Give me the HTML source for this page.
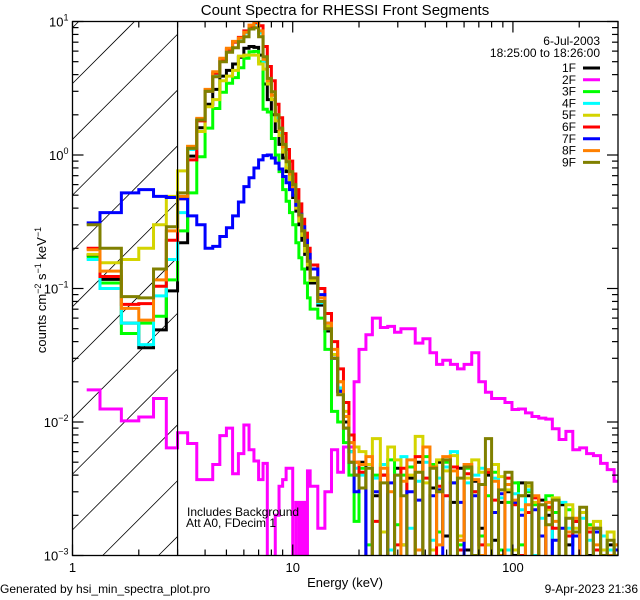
<!DOCTYPE html>
<html><head><meta charset="utf-8"><style>
html,body{margin:0;padding:0;background:#fff;width:640px;height:600px;overflow:hidden;}
svg{display:block;font-family:"Liberation Sans",sans-serif;}
</style></head><body>
<svg id="chart" width="640" height="600" viewBox="0 0 640 600" xmlns="http://www.w3.org/2000/svg">
<rect x="0" y="0" width="640" height="600" fill="#fff"/>
<text x="345" y="15" font-size="15" text-anchor="middle">Count Spectra for RHESSI Front Segments</text>
<g id="hatch"></g>
<g id="series"></g>
<g id="axes"></g>
<text x="345" y="587" font-size="13" text-anchor="middle">Energy (keV)</text>
<text transform="translate(46,290) rotate(-90)" font-size="13" text-anchor="middle">counts cm<tspan dy="-5" font-size="9">−2</tspan><tspan dy="5"> s</tspan><tspan dy="-5" font-size="9">−1</tspan><tspan dy="5"> keV</tspan><tspan dy="-5" font-size="9">−1</tspan></text>
<text x="187" y="516" font-size="12">Includes Background</text>
<text x="186" y="527" font-size="12">Att A0, FDecim 1</text>
<text x="0" y="593" font-size="12">Generated by hsi_min_spectra_plot.pro</text>
<text x="638" y="593" font-size="12" text-anchor="end">9-Apr-2023 21:36</text>
<g id="legend">
<text x="600" y="45" font-size="12" text-anchor="end">6-Jul-2003</text>
<text x="600" y="57" font-size="12" text-anchor="end">18:25:00 to 18:26:00</text>
</g>
</svg>
<script>
const energyEdges = [1.16,1.333,1.667,2,2.333,2.667,3,
3.333,3.667,4,4.333,4.667,5,5.333,5.667,6,6.333,6.667,7,7.333,7.667,8,8.333,8.667,9,9.333,9.667,10,10.333,10.667,11,11.333,11.667,12,
13,14,15,16,17,18,19,20,
21.5,23,25,27,29,31,33,36,39,42,45,48,52,56,60,65,70,75,80,86,92,99,106,114,122,131,141,151,162,174,187,201,216,232,250,268,288,300];

const seriesNames = ["1F","2F","3F","4F","5F","6F","7F","8F","9F"];

const s1F = [0.178,0.117,0.055,0.036,0.049,0.096,
0.22,0.98,1.6,2.4,3.1,3.9,4.3,4.8,5.4,6.3,6.5,6.4,5.6,3.4,2.6,2.0,1.5,1.2,0.95,0.75,0.6,0.48,0.38,0.3,0.23,0.18,0.14,
0.11,0.075,0.048,0.03,0.017,0.01,0.006,0.004,
0.005,0.0006,0.0028,0.004,0.0008,0.0045,0.0012,0.0038,0.005,0.0009,0.0032,0.005,0.0014,0.0025,0.0045,0.0011,0.0036,0.0016,0.004,0.0013,0.0025,0.003,0.001,0.0035,0.0028,0.0009,0.0026,0.002,0.0008,0.0024,0.0012,0.0018,0.0007,0.001,0.0016,0.0006,0.0012,0.0008];

const s2F = [0.0174,0.0125,0.0102,0.0109,0.015,0.0064,
0.0083,0.0069,0.0037,0.0037,0.0048,0.0079,0.009,0.0041,0.0058,0.0095,0.0062,0.0051,0.0037,0.0049,0.0007,0.0007,0.002,0.0033,0.0037,0.0045,0.0045,0.0007,0.0025,0.0007,0.0025,0.0007,0.0043,
0.0033,0.0016,0.003,0.0062,0.0042,0.0065,0.0065,0.02,
0.035,0.045,0.06,0.051,0.052,0.047,0.05,0.05,0.039,0.042,0.033,0.027,0.029,0.027,0.025,0.027,0.033,0.02,0.0167,0.015,0.015,0.014,0.0124,0.0125,0.0117,0.011,0.0107,0.0105,0.0089,0.0074,0.0085,0.0062,0.0064,0.0058,0.0056,0.0049,0.0044,0.0036];

const s3F = [0.17,0.11,0.046,0.055,0.062,0.116,
0.27,0.52,0.97,1.59,2.23,2.95,3.45,3.8,4.5,5.3,5.94,5.97,5.0,2.2,2.1,1.33,1.0,0.75,0.55,0.45,0.37,0.3,0.22,0.17,0.14,0.11,0.085,
0.07,0.06,0.035,0.012,0.01,0.007,0.004,0.0018,
0.0045,0.0012,0.004,0.0009,0.0052,0.0017,0.004,0.0046,0.0011,0.0055,0.0048,0.0015,0.005,0.0035,0.0012,0.0045,0.003,0.0014,0.0028,0.0042,0.0011,0.0025,0.0035,0.0012,0.003,0.0024,0.0009,0.0028,0.0021,0.0008,0.0022,0.0015,0.0007,0.0017,0.0011,0.0006,0.0009,0.0012];

const s4F = [0.165,0.1,0.055,0.038,0.088,0.165,
0.37,1.1,1.85,3.0,4.0,5.2,6.1,7.0,7.4,8.2,9.2,9.6,8.2,5.0,3.5,2.6,1.9,1.45,1.1,0.85,0.7,0.55,0.42,0.34,0.26,0.2,0.155,
0.115,0.078,0.05,0.03,0.018,0.011,0.006,0.0045,
0.004,0.0008,0.0038,0.0048,0.0011,0.004,0.0055,0.0016,0.0036,0.005,0.0013,0.0038,0.0046,0.006,0.0014,0.0035,0.004,0.0045,0.0012,0.0038,0.0027,0.0011,0.0029,0.0022,0.0031,0.001,0.0019,0.0023,0.0009,0.0025,0.0016,0.0007,0.0019,0.0013,0.0006,0.0014,0.0011,0.0008];

const s5F = [0.18,0.156,0.165,0.2,0.3,0.49,
0.76,1.16,1.5,2.3,2.6,3.6,3.9,4.3,5.5,5.6,5.6,5.6,4.8,4.4,3.4,2.6,1.8,1.4,1.05,0.8,0.65,0.52,0.4,0.32,0.25,0.19,0.15,
0.115,0.08,0.052,0.032,0.02,0.012,0.008,0.0065,
0.006,0.0048,0.0075,0.0015,0.0065,0.0052,0.0012,0.004,0.0078,0.0035,0.0011,0.0052,0.0043,0.0056,0.0014,0.0038,0.0052,0.0042,0.0012,0.0048,0.0039,0.0031,0.0011,0.0028,0.0033,0.0025,0.0009,0.0022,0.0027,0.0008,0.0024,0.0016,0.0021,0.0008,0.0018,0.0011,0.0015,0.001];

const s6F = [0.2,0.123,0.076,0.077,0.104,0.23,
0.47,0.92,1.8,3.0,4.1,5.2,6.2,7.0,7.6,8.5,9.2,9.8,9.3,6.5,4.6,3.6,2.4,1.9,1.45,1.1,0.9,0.72,0.55,0.43,0.33,0.26,0.2,
0.15,0.1,0.065,0.04,0.025,0.014,0.008,0.005,
0.0042,0.0007,0.0018,0.004,0.0006,0.0012,0.0045,0.0008,0.0055,0.0038,0.0009,0.0033,0.0028,0.0046,0.0011,0.0041,0.003,0.0012,0.0042,0.0026,0.0009,0.0038,0.0024,0.001,0.0021,0.0027,0.0008,0.0023,0.0016,0.0007,0.0014,0.0018,0.0006,0.0015,0.0011,0.0006,0.0009,0.0011];

const s7F = [0.31,0.37,0.52,0.55,0.49,0.48,
0.47,0.35,0.3,0.2,0.207,0.245,0.285,0.35,0.445,0.58,0.675,0.8,0.92,0.99,1.0,0.95,0.87,0.785,0.69,0.62,0.55,0.5,0.42,0.36,0.29,0.23,0.18,
0.14,0.09,0.055,0.03,0.017,0.009,0.005,0.003,
0.0032,0.0007,0.003,0.0006,0.0035,0.0008,0.0006,0.003,0.0026,0.0007,0.0028,0.0031,0.0009,0.0035,0.0025,0.0005,0.0028,0.0034,0.0008,0.0021,0.0029,0.0007,0.0025,0.002,0.0006,0.0022,0.0014,0.0006,0.0013,0.0016,0.0005,0.0014,0.0009,0.0005,0.0015,0.001,0.0005,0.0011];

const s8F = [0.195,0.135,0.071,0.058,0.116,0.27,
0.49,1.16,1.88,3.1,4.2,5.3,6.3,7.1,7.5,8.3,9.4,10.0,8.5,5.2,3.6,2.8,2.0,1.55,1.15,0.9,0.72,0.58,0.45,0.35,0.27,0.21,0.16,
0.12,0.085,0.055,0.035,0.02,0.011,0.007,0.005,
0.0048,0.0055,0.0009,0.0045,0.003,0.0008,0.0036,0.0052,0.0011,0.0065,0.0046,0.0012,0.0055,0.0043,0.0013,0.0048,0.0037,0.001,0.0044,0.0036,0.001,0.0034,0.0026,0.0009,0.0024,0.0028,0.0008,0.0025,0.0018,0.0007,0.0015,0.0019,0.0007,0.0016,0.0012,0.0006,0.001,0.0012];

const s9F = [0.3,0.2,0.087,0.085,0.14,0.29,
0.52,1.12,1.83,3.0,3.86,5.0,5.88,6.36,7.06,7.69,8.79,8.98,7.69,5.45,3.75,2.98,2.0,1.59,1.2,0.89,0.75,0.6,0.45,0.356,0.27,0.21,0.16,
0.12,0.08,0.05,0.03,0.016,0.009,0.005,0.004,
0.0032,0.0045,0.0008,0.0035,0.0006,0.004,0.0028,0.0007,0.0042,0.0009,0.0045,0.003,0.0052,0.0008,0.0038,0.0046,0.001,0.0034,0.0075,0.0009,0.0031,0.0042,0.0008,0.0028,0.0035,0.0007,0.0024,0.0017,0.0026,0.0006,0.0019,0.0015,0.0023,0.0006,0.0016,0.001,0.0013,0.0009];

const xTickValues = [1,10,100];
const xTickLabels = ["1","10","100"];
const yTickExponents = [1,0,-1,-2,-3];

const seriesList = [s1F,s2F,s3F,s4F,s5F,s6F,s7F,s8F,s9F];
const colors = ["#000000","#ff00ff","#00ff00","#00ffff","#d4d400","#ff0000","#0000ff","#ff8000","#808000"];

const NS = "http://www.w3.org/2000/svg";
const L = 72.5, R = 618, T = 21.5, B = 555.5;
const XMIN = 1, XMAX = 300, YMIN = 1e-3, YMAX = 10;
function xs(e){ return L + (Math.log10(e) - Math.log10(XMIN)) / (Math.log10(XMAX) - Math.log10(XMIN)) * (R - L); }
function ys(v){ if (!(v > 0)) v = 1e-6; return B - (Math.log10(v) - Math.log10(YMIN)) / (Math.log10(YMAX) - Math.log10(YMIN)) * (B - T); }
function mk(tag, attrs, parent){ const el = document.createElementNS(NS, tag); for (const k in attrs) el.setAttribute(k, attrs[k]); parent.appendChild(el); return el; }

const svg = document.getElementById('chart');
const defs = mk('defs', {}, svg);
const cp = mk('clipPath', {id:'plotclip'}, defs);
mk('rect', {x:L, y:T, width:R-L, height:B-T}, cp);

// hatch lines clipped analytically to the hatch box
const hatch = document.getElementById('hatch');
const HX1 = xs(3);
for (let k = -3; k < 14; k++) {
  const c = 27.7 + k * 55.8 + L; // line: y = c - x
  let xa = Math.max(L, c - B), xb = Math.min(HX1, c - T);
  if (xb <= xa) continue;
  const ln = mk('line', {x1:xa, y1:c-xa, x2:xb, y2:c-xb, stroke:'#000', 'stroke-width':0.8}, hatch);
  
  
}

const sg = document.getElementById('series');
sg.setAttribute('clip-path', 'url(#plotclip)');
seriesList.forEach((vals, si) => {
  let d = '';
  for (let i = 0; i < vals.length; i++) {
    const x0 = xs(energyEdges[i]).toFixed(2), x1 = xs(energyEdges[i+1]).toFixed(2), y = Math.min(ys(vals[i]), B + 3).toFixed(2);
    d += (i === 0 ? 'M' : 'L') + x0 + ',' + y + 'L' + x1 + ',' + y;
  }
  const p = mk('path', {d:d, fill:'none', stroke:colors[si], 'stroke-width':3, 'stroke-linejoin':'miter'}, sg);
  
  
});

const ax = document.getElementById('axes');
const vline = mk('line', {x1:xs(3), y1:T, x2:xs(3), y2:B, stroke:'#000', 'stroke-width':1.2}, ax);


const frame = mk('rect', {x:L, y:T, width:R-L, height:B-T, fill:'none', stroke:'#000', 'stroke-width':1.3}, ax);


for (let e = -3; e <= 1; e++) {
  for (let m = 1; m <= 9; m++) {
    const v = m * Math.pow(10, e);
    if (v > YMAX + 1e-9) continue;
    const y = ys(v); const len = m === 1 ? 11 : 6;
    mk('line', {x1:L, y1:y, x2:L+len, y2:y, stroke:'#000', 'stroke-width':1.2}, ax);
    mk('line', {x1:R, y1:y, x2:R-len, y2:y, stroke:'#000', 'stroke-width':1.2}, ax);
  }
}
yTickExponents.forEach(e => {
  const t = mk('text', {x:L-4, y:ys(Math.pow(10, e))+5, 'font-size':13, 'text-anchor':'end'}, ax);
  
  
  const a = mk('tspan', {}, t); a.textContent = '10';
  const b = mk('tspan', {dy:-6, 'font-size':9}, t); b.textContent = e < 0 ? '−' + (-e) : String(e);
});
for (let e = 0; e <= 2; e++) {
  for (let m = 1; m <= 9; m++) {
    const v = m * Math.pow(10, e);
    if (v > XMAX + 1e-9) continue;
    const x = xs(v); const len = m === 1 ? 11 : 6;
    mk('line', {x1:x, y1:B, x2:x, y2:B-len, stroke:'#000', 'stroke-width':1.2}, ax);
    mk('line', {x1:x, y1:T, x2:x, y2:T+len, stroke:'#000', 'stroke-width':1.2}, ax);
  }
}
xTickValues.forEach((v, i) => {
  const t = mk('text', {x:xs(v), y:572, 'font-size':13, 'text-anchor':'middle'}, ax);
  
  
  t.textContent = xTickLabels[i];
});

const lg = document.getElementById('legend');
seriesNames.forEach((n, i) => {
  const y = 68 + i * 11.8;
  const t = mk('text', {x:576, y:y+4, 'font-size':12, 'text-anchor':'end'}, lg);
  
  
  t.textContent = n;
  const l = mk('line', {x1:583, y1:y, x2:600, y2:y, stroke:colors[i], 'stroke-width':3}, lg);
  
  
});
</script>
</body></html>
